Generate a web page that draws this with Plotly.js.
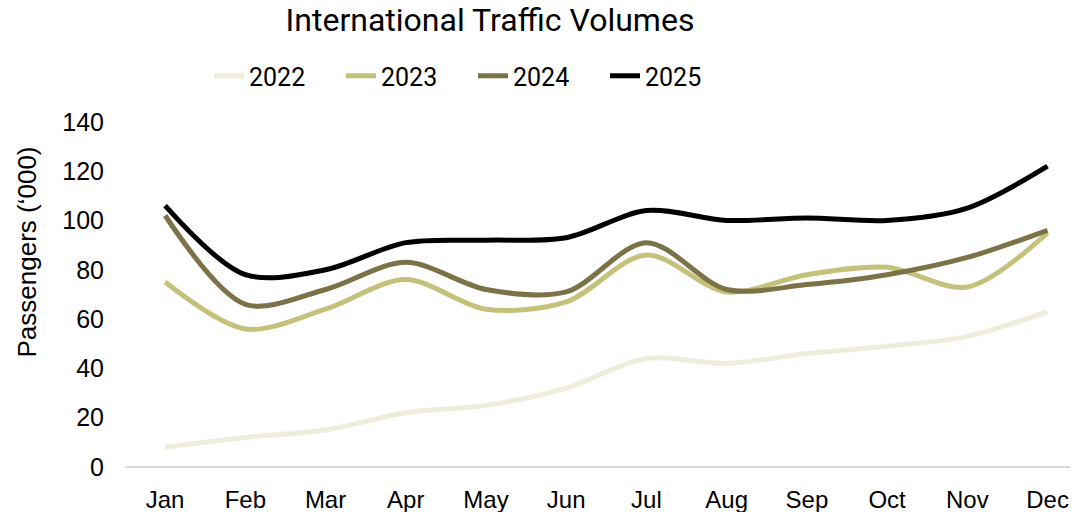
<!DOCTYPE html>
<html>
<head>
<meta charset="utf-8">
<script src="https://cdn.plot.ly/plotly-3.0.1.min.js"></script>
<style>html,body{margin:0;padding:0;background:#fff;}#chart{width:1076px;height:512px;}</style>
</head>
<body>
<div id="chart"></div>
<script>
const months = ["Jan","Feb","Mar","Apr","May","Jun","Jul","Aug","Sep","Oct","Nov","Dec"];
const years = ["2022","2023","2024","2025"];
const v2022 = [8, 12, 15, 22, 25, 32, 44, 42, 46, 49, 53, 63];
const v2023 = [75, 56, 64, 76, 64, 67, 86, 71, 78, 81, 73, 95];
const v2024 = [102, 66, 72, 83, 72, 71, 91, 72, 74, 78, 85, 96];
const v2025 = [106, 78, 80, 91, 92, 93, 104, 100, 101, 100, 105, 122];
const yTicks = [0, 20, 40, 60, 80, 100, 120, 140];
const colors = ["#EEEDDC", "#C4C27A", "#7B7248", "#000000"];

const series = [v2022, v2023, v2024, v2025];
const xIdx = months.map((m, i) => i);
const traces = series.map((vals, k) => ({
  type: "scatter",
  mode: "lines",
  name: years[k],
  x: xIdx,
  y: vals,
  line: {color: colors[k], width: 5, shape: "spline", smoothing: 0.9},
  hoverinfo: "skip"
}));

const condensed = "Roboto, 'Liberation Sans', sans-serif";
const normal = "'Liberation Sans', Arial, sans-serif";

const layout = {
  width: 1076,
  height: 512,
  paper_bgcolor: "#ffffff",
  plot_bgcolor: "#ffffff",
  margin: {l: 125, r: 6, t: 37, b: 45.3, autoexpand: false},
  font: {family: normal, color: "#000000"},
  title: {
    text: "International Traffic Volumes",
    font: {family: condensed, size: 32, color: "#000000"},
    x: 490 / 1076, xref: "container", xanchor: "center",
    y: 1 - 20 / 512, yref: "container", yanchor: "middle"
  },
  showlegend: true,
  legend: {
    orientation: "h",
    xref: "paper", yref: "paper",
    x: (209 - 125) / 945, xanchor: "left",
    y: (466.7 - 76) / 429.7, yanchor: "middle",
    font: {family: condensed, size: 25, color: "#000000"},
    entrywidth: 87,
    entrywidthmode: "pixels",
    bgcolor: "rgba(0,0,0,0)"
  },
  xaxis: {
    range: [-0.5, 11.28],
    tickmode: "array",
    tickvals: xIdx,
    ticktext: months,
    showgrid: false,
    zeroline: false,
    showline: false,
    ticks: "",
    ticklabelstandoff: 16,
    tickfont: {family: normal, size: 24, color: "#000000"},
    automargin: false,
    fixedrange: true
  },
  yaxis: {
    range: [0, 174.4],
    tickmode: "array",
    tickvals: yTicks,
    ticktext: yTicks.map(String),
    showgrid: false,
    zeroline: true,
    zerolinecolor: "#D9D9D9",
    zerolinewidth: 2,
    showline: false,
    ticks: "",
    ticklabelstandoff: 20,
    tickfont: {family: normal, size: 25, color: "#000000"},
    title: {text: "Passengers (‘000)", font: {family: normal, size: 26, color: "#000000"}, standoff: 18},
    automargin: false,
    fixedrange: true
  }
};

Plotly.newPlot("chart", traces, layout, {displayModeBar: false, staticPlot: true});
</script>
</body>
</html>
